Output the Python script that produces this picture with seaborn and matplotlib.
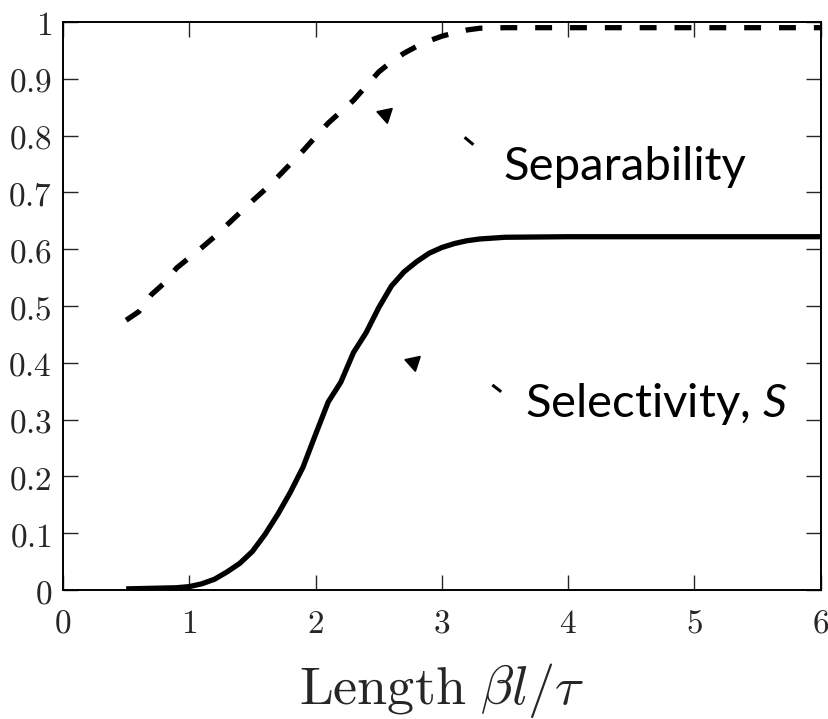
import matplotlib
matplotlib.use("Agg")
import matplotlib.pyplot as plt
import seaborn as sns
import pandas as pd

# Separability (dashed) versus normalised length
sep_x = [0.5, 0.6, 0.7, 0.8, 0.9, 1.0, 1.1, 1.2, 1.3, 1.4, 1.5, 1.6, 1.7, 1.8,
         1.9, 2.0, 2.1, 2.2, 2.3, 2.4, 2.5, 2.6, 2.7, 2.8, 2.9, 3.0, 3.1, 3.2,
         3.3, 3.5, 4.0, 4.5, 5.0, 5.5, 6.0]
sep_y = [0.475, 0.49, 0.52, 0.54, 0.567, 0.585, 0.603, 0.622, 0.643, 0.664,
         0.685, 0.705, 0.727, 0.75, 0.773, 0.798, 0.822, 0.842, 0.862, 0.887,
         0.912, 0.93, 0.945, 0.957, 0.967, 0.975, 0.981, 0.986, 0.989, 0.99,
         0.99, 0.99, 0.99, 0.99, 0.99]

# Selectivity S (solid) versus normalised length
sel_x = [0.5, 0.7, 0.9, 1.0, 1.1, 1.2, 1.3, 1.4, 1.5, 1.6, 1.7, 1.8, 1.9, 2.0,
         2.1, 2.2, 2.3, 2.4, 2.5, 2.6, 2.7, 2.8, 2.9, 3.0, 3.1, 3.2, 3.3, 3.5,
         4.0, 5.0, 6.0]
sel_y = [0.002, 0.003, 0.004, 0.006, 0.011, 0.019, 0.032, 0.047, 0.068, 0.098,
         0.133, 0.172, 0.216, 0.274, 0.331, 0.366, 0.418, 0.453, 0.497, 0.535,
         0.56, 0.578, 0.593, 0.603, 0.61, 0.615, 0.618, 0.621, 0.622, 0.622,
         0.622]

x_ticks = [0, 1, 2, 3, 4, 5, 6]
y_ticks = [0, 0.1, 0.2, 0.3, 0.4, 0.5, 0.6, 0.7, 0.8, 0.9, 1]
y_tick_labels = ["0", "0.1", "0.2", "0.3", "0.4", "0.5", "0.6", "0.7", "0.8",
                 "0.9", "1"]

sns.set_style("ticks")
plt.rcParams["font.family"] = ["DejaVu Sans"]
plt.rcParams["mathtext.fontset"] = "cm"
# custom math set used only by the curve labels
plt.rcParams["mathtext.rm"] = "Lato"
plt.rcParams["mathtext.it"] = "Lato:italic"

fig = plt.figure(figsize=(8.29, 7.19), dpi=100)
ax = fig.add_axes([0.076, 0.1794, 0.914, 0.79])

sep_df = pd.DataFrame({"length": sep_x, "value": sep_y})
sel_df = pd.DataFrame({"length": sel_x, "value": sel_y})

sns.lineplot(data=sep_df, x="length", y="value", ax=ax, color="black",
             linewidth=3.8, linestyle=(0, (3.2, 3.4)),
             dash_capstyle="butt")
sns.lineplot(data=sel_df, x="length", y="value", ax=ax, color="black",
             linewidth=3.8, solid_capstyle="butt")

ax.set_xlim(0, 6)
ax.set_ylim(0, 1)
ax.set_xticks(x_ticks)
ax.set_xticklabels([rf"${t}$" for t in x_ticks])
ax.set_yticks(y_ticks)
ax.set_yticklabels([rf"${t}$" for t in y_tick_labels])
ax.tick_params(direction="in", length=10.8, width=1.0, labelsize=24,
               top=True, right=True, pad=8)
ax.tick_params(axis="x", pad=12)
for side in ax.spines.values():
    side.set_linewidth(1.4)
    side.set_color("black")

ax.set_xlabel(r"$\mathrm{Length}\ \beta l/\tau$", fontsize=39, labelpad=15)
ax.set_ylabel("")

# Curve labels with their small pointer heads
ax.text(3.49, 0.745, "Separability", fontfamily="Lato", fontsize=34,
        va="center", ha="left", color="black")
ax.text(3.66, 0.327, r"Selectivity, $S$", fontfamily="Lato", fontsize=34,
        math_fontfamily="custom", va="center", ha="left", color="black")

ax.plot([2.55], [0.838], marker=(3, 0, 192), markersize=13, color="black",
        linestyle="none")
ax.plot([2.77], [0.402], marker=(3, 0, 192), markersize=13, color="black",
        linestyle="none")
ax.plot([3.18, 3.25], [0.797, 0.784], color="black", linewidth=2.2,
        solid_capstyle="butt")
ax.plot([3.40, 3.47], [0.361, 0.349], color="black", linewidth=2.2,
        solid_capstyle="butt")

fig.savefig("out.png", dpi=100)
